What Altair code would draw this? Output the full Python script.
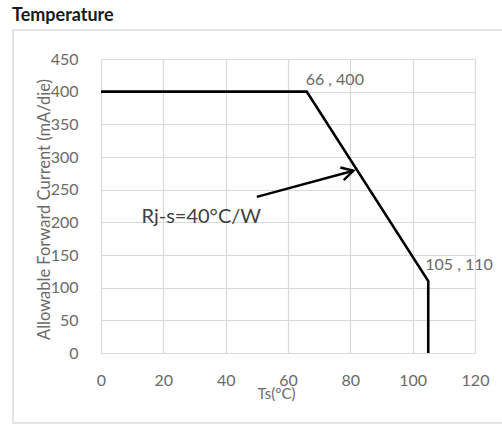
import altair as alt
import pandas as pd

# Derating curve: case temperature vs allowable forward current
ts_c = [0, 66, 105, 105]
current_ma = [400, 400, 110, 0]

x_ticks = [0, 20, 40, 60, 80, 100, 120]
y_ticks = [0, 50, 100, 150, 200, 250, 300, 350, 400, 450]

# Annotated knee points
knee_x = [66, 105]
knee_y = [400, 110]
knee_text = ["66 , 400", "105 , 110"]

# Thermal resistance callout
note_text = "Rj-s=40\u00b0C/W"
note_x, note_y = 13, 208
arrow_x = [50, 81]
arrow_y = [239, 279]

FONT = "Lato"
GREY = "#6a6a6a"

curve = pd.DataFrame({"ts": ts_c, "i": current_ma, "k": range(len(ts_c))})
knees = pd.DataFrame({"ts": knee_x, "i": knee_y, "t": knee_text})
arrow = pd.DataFrame({"ts": arrow_x, "i": arrow_y, "k": [0, 1]})
note = pd.DataFrame({"ts": [note_x], "i": [note_y], "t": [note_text]})
one = pd.DataFrame({"a": [0]})

xs = alt.Scale(domain=[0, 120], nice=False, zero=False)
ys = alt.Scale(domain=[0, 450], nice=False)

x_axis = alt.Axis(
    values=x_ticks, title="Ts(\u00b0C)", ticks=False, domain=False,
    grid=True, gridColor="#d9d9d9", gridWidth=1.2, labelOverlap=False,
    labelFlush=False,
    labelFont=FONT, labelFontSize=16, labelColor=GREY, labelPadding=19,
    titleFont=FONT, titleFontSize=15, titleFontWeight="normal", titleColor=GREY,
    titleX=175, titleY=40, titleAlign="center", titleBaseline="middle",
)
y_axis = alt.Axis(
    values=y_ticks, title="Allowable Forward Current (mA/die)", ticks=False,
    domain=False, grid=True, gridColor="#d9d9d9", gridWidth=1.2,
    labelOverlap=False, labelFlush=False,
    labelFont=FONT, labelFontSize=16, labelColor=GREY, labelPadding=23,
    titleFont=FONT, titleFontSize=16.5, titleFontWeight="normal", titleColor=GREY,
    titleX=-57, titleY=150, titleAngle=270, titleAlign="center",
    titleBaseline="middle",
)

# Every layer shares the same positional encodings (and axes)
X = alt.X("ts:Q", scale=xs, axis=x_axis)
Y = alt.Y("i:Q", scale=ys, axis=y_axis)

line = alt.Chart(curve).mark_line(color="black", strokeWidth=2.6).encode(
    x=X, y=Y, order="k:Q"
)

label_a = alt.Chart(knees.iloc[[0]]).mark_text(
    font=FONT, fontSize=16, color=GREY, align="left", baseline="middle", dx=-1, dy=-12
).encode(x=X, y=Y, text="t:N")

label_b = alt.Chart(knees.iloc[[1]]).mark_text(
    font=FONT, fontSize=16, color=GREY, align="left", baseline="middle", dx=-3, dy=-16
).encode(x=X, y=Y, text="t:N")

note_mark = alt.Chart(note).mark_text(
    font=FONT, fontSize=20, color="#404040", align="left", baseline="middle"
).encode(x=X, y=Y, text="t:N")

arrow_shaft = alt.Chart(arrow).mark_line(color="black", strokeWidth=2.4).encode(
    x=X, y=Y, order="k:Q"
)

arrow_head = alt.Chart(arrow.iloc[[1]]).mark_point(
    shape="M -1 -0.55 L 0 0 L -1 0.55", filled=False, stroke="black",
    strokeWidth=2.4, size=560, angle=345, opacity=1,
).encode(x=X, y=Y)

frame = alt.Chart(one).mark_rect(
    fill="transparent", stroke="#dcdcdc", strokeWidth=1.5
).encode(
    x=alt.value(-88), x2=alt.value(430), y=alt.value(-29), y2=alt.value(364)
)

heading = alt.Chart(one).mark_text(
    text="Temperature", font=FONT, fontSize=18, fontWeight="bold",
    color="#1a1a1a", align="left", baseline="middle",
).encode(x=alt.value(-89), y=alt.value(-43))

chart = alt.layer(
    line, frame, heading, arrow_shaft, arrow_head, label_a, label_b, note_mark
).properties(
    width=374, height=294,
    autosize=alt.AutoSizeParams(type="none"),
    padding={"left": 101, "top": 59, "right": 27, "bottom": 73},
    background="white",
).configure_view(stroke=None)

chart.save("out.html", embed_options={"renderer": "svg", "actions": False})
